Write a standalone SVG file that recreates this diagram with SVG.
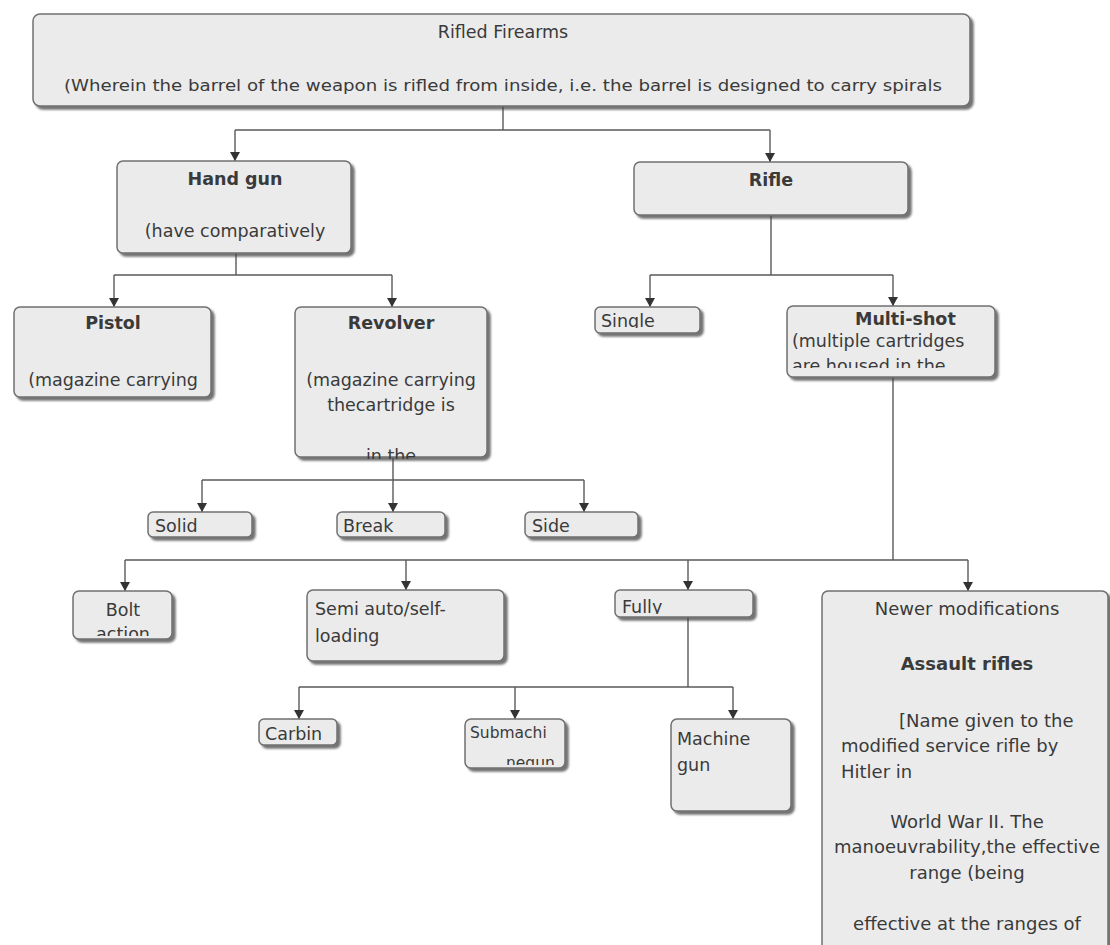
<svg xmlns="http://www.w3.org/2000/svg" width="1110" height="945" viewBox="0 0 1110 945">
<defs>
<filter id="sh" x="-10%" y="-10%" width="125%" height="140%">
<feDropShadow dx="3" dy="3" stdDeviation="1.2" flood-color="#444" flood-opacity="0.75"/>
</filter>
<marker id="ar" markerWidth="9" markerHeight="10" refX="9" refY="5" orient="auto" markerUnits="userSpaceOnUse" viewBox="0 0 9 10">
<path d="M0,0 L9,5 L0,10 Z" fill="#333"/>
</marker>
<clipPath id="cRev"><rect x="295" y="307" width="192" height="152"/></clipPath>
<clipPath id="cSingle"><rect x="595" y="307" width="105" height="21"/></clipPath>
<clipPath id="cMulti"><rect x="787" y="306" width="208" height="62"/></clipPath>
<clipPath id="cBolt"><rect x="73" y="591" width="99" height="45"/></clipPath>
<clipPath id="cFully"><rect x="615" y="590" width="138" height="24"/></clipPath>
<clipPath id="cSub"><rect x="465" y="719" width="100" height="46"/></clipPath>
</defs>
<style>
.box{fill:#ebebeb;stroke:#707070;stroke-width:1.5;filter:url(#sh)}
.t{font-family:"DejaVu Sans",sans-serif;font-size:17.5px;fill:#3a3a3a}
.b{font-weight:bold}
.m{text-anchor:middle}
.n{font-size:18px}
.c{fill:none;stroke:#5a5a5a;stroke-width:1.4}
</style>
<rect width="1110" height="945" fill="#ffffff"/>
<g id="connectors">
<path class="c" d="M503,106 V130 M235,130 H770"/>
<path class="c" d="M235,130 V161" marker-end="url(#ar)"/>
<path class="c" d="M770,130 V162" marker-end="url(#ar)"/>
<path class="c" d="M236,253 V275 M114,275 H392"/>
<path class="c" d="M114,275 V307" marker-end="url(#ar)"/>
<path class="c" d="M392,275 V307" marker-end="url(#ar)"/>
<path class="c" d="M771,215 V275 M650,275 H893"/>
<path class="c" d="M650,275 V307" marker-end="url(#ar)"/>
<path class="c" d="M893,275 V306" marker-end="url(#ar)"/>
<path class="c" d="M393,457 V480 M202,480 H584"/>
<path class="c" d="M202,480 V512" marker-end="url(#ar)"/>
<path class="c" d="M393,480 V512" marker-end="url(#ar)"/>
<path class="c" d="M584,480 V512" marker-end="url(#ar)"/>
<path class="c" d="M893,377 V560 M125,560 H968"/>
<path class="c" d="M125,560 V591" marker-end="url(#ar)"/>
<path class="c" d="M406,560 V590" marker-end="url(#ar)"/>
<path class="c" d="M688,560 V590" marker-end="url(#ar)"/>
<path class="c" d="M968,560 V591" marker-end="url(#ar)"/>
<path class="c" d="M688,617 V687 M299,687 H733"/>
<path class="c" d="M299,687 V719" marker-end="url(#ar)"/>
<path class="c" d="M515,687 V719" marker-end="url(#ar)"/>
<path class="c" d="M733,687 V719" marker-end="url(#ar)"/>
</g>
<g id="rifled-firearms">
<rect class="box" x="33" y="14" width="937" height="92" rx="7"/>
<text class="t m" x="503" y="38" font-size="17">Rifled Firearms</text>
<text class="t m" x="503" y="91" style="font-size:16px" textLength="878" lengthAdjust="spacingAndGlyphs">(Wherein the barrel of the weapon is rifled from inside, i.e. the barrel is designed to carry spirals</text>
</g>
<g id="hand-gun">
<rect class="box" x="117" y="161" width="234" height="92" rx="6"/>
<text class="t b m" x="235" y="185">Hand gun</text>
<text class="t m" x="235" y="237">(have comparatively</text>
</g>
<g id="rifle">
<rect class="box" x="634" y="162" width="274" height="53" rx="6"/>
<text class="t b m" x="771" y="186">Rifle</text>
</g>
<g id="pistol">
<rect class="box" x="14" y="307" width="197" height="90" rx="6"/>
<text class="t b m" x="113" y="329">Pistol</text>
<text class="t m" x="113" y="386">(magazine carrying</text>
</g>
<g id="revolver">
<rect class="box" x="295" y="307" width="192" height="150" rx="6"/>
<text class="t b m" x="391" y="329">Revolver</text>
<text class="t m" x="391" y="386">(magazine carrying</text>
<text class="t m" x="391" y="411">thecartridge is</text>
<text class="t m" x="391" y="462" clip-path="url(#cRev)">in the</text>
</g>
<g id="single">
<rect class="box" x="595" y="307" width="105" height="26" rx="5"/>
<text class="t" x="601" y="327" clip-path="url(#cSingle)">Single</text>
</g>
<g id="multi-shot">
<rect class="box" x="787" y="306" width="208" height="71" rx="6"/>
<text class="t b" x="855" y="325">Multi-shot</text>
<text class="t" x="792" y="347">(multiple cartridges</text>
<text class="t" x="792" y="372" clip-path="url(#cMulti)">are housed in the</text>
</g>
<g id="solid">
<rect class="box" x="148" y="512" width="104" height="25" rx="5"/>
<text class="t" x="155" y="532">Solid</text>
</g>
<g id="break">
<rect class="box" x="337" y="512" width="108" height="25" rx="5"/>
<text class="t" x="343" y="532">Break</text>
</g>
<g id="side">
<rect class="box" x="525" y="512" width="113" height="25" rx="5"/>
<text class="t" x="532" y="532">Side</text>
</g>
<g id="bolt-action">
<rect class="box" x="73" y="591" width="99" height="48" rx="6"/>
<text class="t m" x="123" y="616">Bolt</text>
<text class="t m" x="123" y="640" clip-path="url(#cBolt)">action</text>
</g>
<g id="semi-auto">
<rect class="box" x="307" y="590" width="197" height="71" rx="6"/>
<text class="t" x="315" y="615">Semi auto/self-</text>
<text class="t" x="315" y="642">loading</text>
</g>
<g id="fully">
<rect class="box" x="615" y="590" width="138" height="27" rx="5"/>
<text class="t" x="622" y="613" clip-path="url(#cFully)">Fully</text>
</g>
<g id="newer-modifications">
<rect class="box" x="822" y="591" width="286" height="380" rx="6"/>
<text class="t n m" x="967" y="615">Newer modifications</text>
<text class="t n b m" x="967" y="670">Assault rifles</text>
<text class="t n" x="899" y="727">[Name given to the</text>
<text class="t n" x="841" y="752">modified service rifle by</text>
<text class="t n" x="841" y="778">Hitler in</text>
<text class="t n m" x="967" y="828">World War II. The</text>
<text class="t n m" x="967" y="853">manoeuvrability,the effective</text>
<text class="t n m" x="967" y="879">range (being</text>
<text class="t n m" x="967" y="930">effective at the ranges of</text>
</g>
<g id="carbin">
<rect class="box" x="259" y="719" width="78" height="26" rx="5"/>
<text class="t" x="265" y="740">Carbin</text>
</g>
<g id="submachine-gun">
<rect class="box" x="465" y="719" width="100" height="49" rx="6"/>
<text class="t" x="470" y="738" style="font-size:15.5px">Submachi</text>
<text class="t" x="506" y="768" style="font-size:15.5px" clip-path="url(#cSub)">negun</text>
</g>
<g id="machine-gun">
<rect class="box" x="671" y="719" width="120" height="92" rx="6"/>
<text class="t" x="677" y="745">Machine</text>
<text class="t" x="677" y="771">gun</text>
</g>
</svg>
